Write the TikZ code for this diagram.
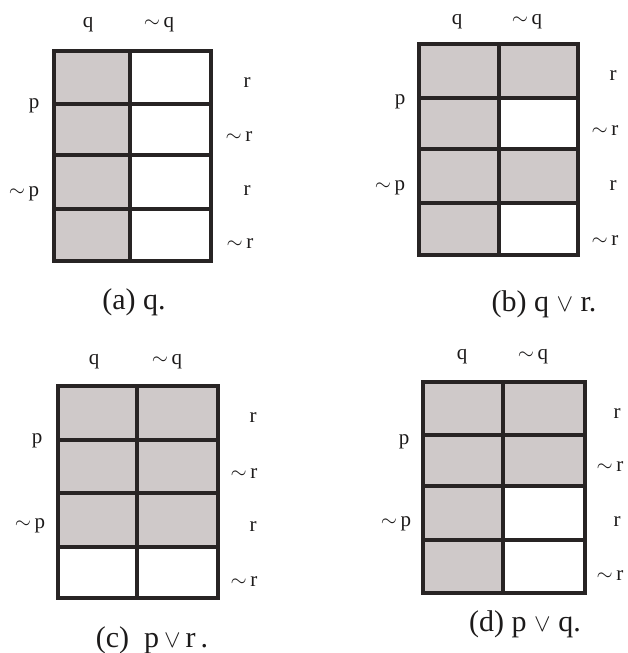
\documentclass[tikz,border=0pt]{standalone}
\usepackage{fontspec}
\setmainfont{Liberation Serif}
\definecolor{shadecell}{RGB}{207,201,201}
\definecolor{inkline}{RGB}{40,36,36}
\definecolor{inktext}{RGB}{28,26,26}
\begin{document}
\begin{tikzpicture}[x=1pt,y=-1pt,
  gridline/.style={line width=3.2pt, draw=inkline, line cap=rect},
  filled/.style={fill=shadecell},
  lab/.style={font=\fontsize{21}{21}\selectfont, inner sep=0pt, text=inktext},
  captext/.style={font=\fontsize{30}{30}\selectfont, inner sep=0pt, text=inktext}]
\useasboundingbox[fill=white] (0,0) rectangle (627,653);

% ---------- (a) q ----------
\fill[filled] (54,51) rectangle (130,261);
\draw[gridline] (54,51) rectangle (211,261);
\draw[gridline] (130,51) -- (130,261);
\foreach \yy in {104,155,209} \draw[gridline] (54,\yy) -- (211,\yy);
\node[lab] (aq) at (88,25) {q};
\node[lab] (anq) at (159,25) {$\sim$\,q};
\node[lab] (ar1) at (247,83) {r};
\node[lab] (ar2) at (239,137) {$\sim$\,r};
\node[lab] (ar3) at (247,191) {r};
\node[lab] (ar4) at (240,244) {$\sim$\,r};
\node[lab] (ap) at (34,106) {p};
\node[lab] (anp) at (24,194) {$\sim$\,p};
\node[captext] (acap) at (134,302) {(a) q.};

% ---------- (b) q v r ----------
\fill[filled] (419,44) rectangle (499,255);
\fill[filled] (499,44) rectangle (578,98);
\fill[filled] (499,149) rectangle (578,203);
\draw[gridline] (419,44) rectangle (578,255);
\draw[gridline] (499,44) -- (499,255);
\foreach \yy in {98,149,203} \draw[gridline] (419,\yy) -- (578,\yy);
\node[lab] (bq) at (457,22) {q};
\node[lab] (bnq) at (527,22) {$\sim$\,q};
\node[lab] (br1) at (613,76) {r};
\node[lab] (br2) at (605,131) {$\sim$\,r};
\node[lab] (br3) at (613,186) {r};
\node[lab] (br4) at (605,241) {$\sim$\,r};
\node[lab] (bp) at (400,102) {p};
\node[lab] (bnp) at (390,188) {$\sim$\,p};
\node[captext] (bcap) at (544,304) {(b) q $\vee$ r.};

% ---------- (c) p v r ----------
\fill[filled] (58,386) rectangle (218,547);
\draw[gridline] (58,386) rectangle (218,598);
\draw[gridline] (137,386) -- (137,598);
\foreach \yy in {440,493,547} \draw[gridline] (58,\yy) -- (218,\yy);
\node[lab] (cq) at (94,362) {q};
\node[lab] (cnq) at (167,362) {$\sim$\,q};
\node[lab] (cr1) at (253,418) {r};
\node[lab] (cr2) at (244,474) {$\sim$\,r};
\node[lab] (cr3) at (253,527) {r};
\node[lab] (cr4) at (244,582) {$\sim$\,r};
\node[lab] (cp) at (37,441) {p};
\node[lab] (cnp) at (30,526) {$\sim$\,p};
\node[captext] (ccap) at (152,640) {(c)\ \ p\,$\vee$\,r\,.};

% ---------- (d) p v q ----------
\fill[filled] (423,382) rectangle (503,593);
\fill[filled] (503,382) rectangle (585,486);
\draw[gridline] (423,382) rectangle (585,593);
\draw[gridline] (503,382) -- (503,593);
\foreach \yy in {435,486,540} \draw[gridline] (423,\yy) -- (585,\yy);
\node[lab] (dq) at (462,357) {q};
\node[lab] (dnq) at (533,357) {$\sim$\,q};
\node[lab] (dr1) at (617,414) {r};
\node[lab] (dr2) at (610,467) {$\sim$\,r};
\node[lab] (dr3) at (617,522) {r};
\node[lab] (dr4) at (610,576) {$\sim$\,r};
\node[lab] (dp) at (404,442) {p};
\node[lab] (dnp) at (396,524) {$\sim$\,p};
\node[captext] (dcap) at (525,624) {(d) p $\vee$ q.};
\end{tikzpicture}
\end{document}
